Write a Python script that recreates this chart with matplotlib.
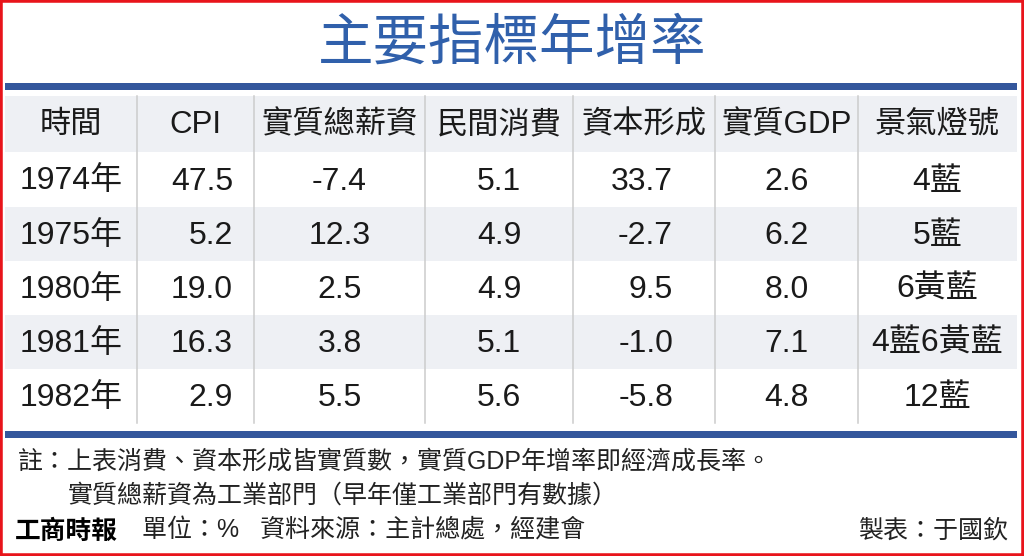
import numpy as np
import matplotlib
matplotlib.use('Agg')
import matplotlib.pyplot as plt
from matplotlib.patches import Rectangle

# table content
title = '主要指標年增率'
columns = ['時間', 'CPI', '實質總薪資', '民間消費', '資本形成', '實質GDP', '景氣燈號']
years = ['1974年', '1975年', '1980年', '1981年', '1982年']
cpi = [47.5, 5.2, 19.0, 16.3, 2.9]
wage = [-7.4, 12.3, 2.5, 3.8, 5.5]
consumption = [5.1, 4.9, 4.9, 5.1, 5.6]
capital = [33.7, -2.7, 9.5, -1.0, -5.8]
gdp = [2.6, 6.2, 8.0, 7.1, 4.8]
signal = ['4藍', '5藍', '6黃藍', '4藍6黃藍', '12藍']
note1 = '註：上表消費、資本形成皆實質數，實質GDP年增率即經濟成長率。'
note2 = '實質總薪資為工業部門（早年僅工業部門有數據）'
logo = '工商時報'
source = '單位：%   資料來源：主計總處，經建會'
maker = '製表：于國欽'

FONT = ['Liberation Sans', 'Noto Sans CJK TC', 'DejaVu Sans']
plt.rcParams['font.family'] = FONT

BLUE = '#34579c'
TITLE_BLUE = '#3060ab'
GRAY = '#eef0f4'
TXT = '#1a1a1a'

W, H = 1024, 556
fig = plt.figure(figsize=(W / 100, H / 100), dpi=100, facecolor='white')
ax = fig.add_axes([0, 0, 1, 1])
ax.set_xlim(0, W)
ax.set_ylim(H, 0)
ax.axis('off')

# layout in pixel units
left, right = 5, 1017
col_edges = [left, 137, 254, 425, 573, 715, 858, right]
row_edges = [96, 152, 207, 261, 315, 369, 423]
# alignment of the body cells: ('center', None) or ('right', x)
body_align = [('center', None), ('right', 233), ('center', None), ('center', None),
              ('right', 673), ('center', None), ('center', None)]

# title and blue rules
ax.text(W / 2, 44, title, ha='center', va='center', fontsize=40, fontweight='medium',
        color=TITLE_BLUE, family=['Noto Sans CJK TC'])
ax.add_patch(Rectangle((left, 83), right - left, 7, color=BLUE, lw=0))
ax.add_patch(Rectangle((left, 431), right - left, 7, color=BLUE, lw=0))

# row shading: header, then every other body row
for i in range(len(row_edges) - 1):
    if i % 2 == 0:
        ax.add_patch(Rectangle((left, row_edges[i]), right - left,
                               row_edges[i + 1] - row_edges[i], color=GRAY, lw=0))

# vertical separators
for x in col_edges[1:-1]:
    ax.plot([x, x], [row_edges[0], row_edges[-1]], color='#cccccc', lw=1.1)

# header
ymid = (row_edges[0] + row_edges[1]) / 2
for j, name in enumerate(columns):
    xc = (col_edges[j] + col_edges[j + 1]) / 2
    ax.text(xc, ymid + 1, name, ha='center', va='center', fontsize=22.5, color=TXT)

# body rows
body = [years,
        [f'{v:.1f}' for v in cpi],
        [f'{v:.1f}' for v in wage],
        [f'{v:.1f}' for v in consumption],
        [f'{v:.1f}' for v in capital],
        [f'{v:.1f}' for v in gdp],
        signal]
for i in range(len(years)):
    ymid = (row_edges[i + 1] + row_edges[i + 2]) / 2
    for j, col in enumerate(body):
        ha, xr = body_align[j]
        xc = (col_edges[j] + col_edges[j + 1]) / 2 if xr is None else xr
        ax.text(xc, ymid + 2, col[i], ha=ha, va='center', fontsize=23, color=TXT)

# notes and footer
ax.text(18, 462, note1, ha='left', va='center', fontsize=18, color='#222222')
ax.text(68, 496, note2, ha='left', va='center', fontsize=18, color='#222222')
ax.text(15, 531, logo, ha='left', va='center', fontsize=18.5, fontweight='heavy',
        color='black', family=['Noto Sans CJK TC'])
ax.text(142, 531, source, ha='left', va='center', fontsize=18, color='#222222')
ax.text(1008, 531, maker, ha='right', va='center', fontsize=18, color='#222222')

# red frame around the picture
fig.patches.append(Rectangle((0, 0), 1, 1, transform=fig.transFigure, fill=False,
                             edgecolor='#e8141b', lw=4))

fig.savefig('out.png', dpi=100, facecolor='white')
